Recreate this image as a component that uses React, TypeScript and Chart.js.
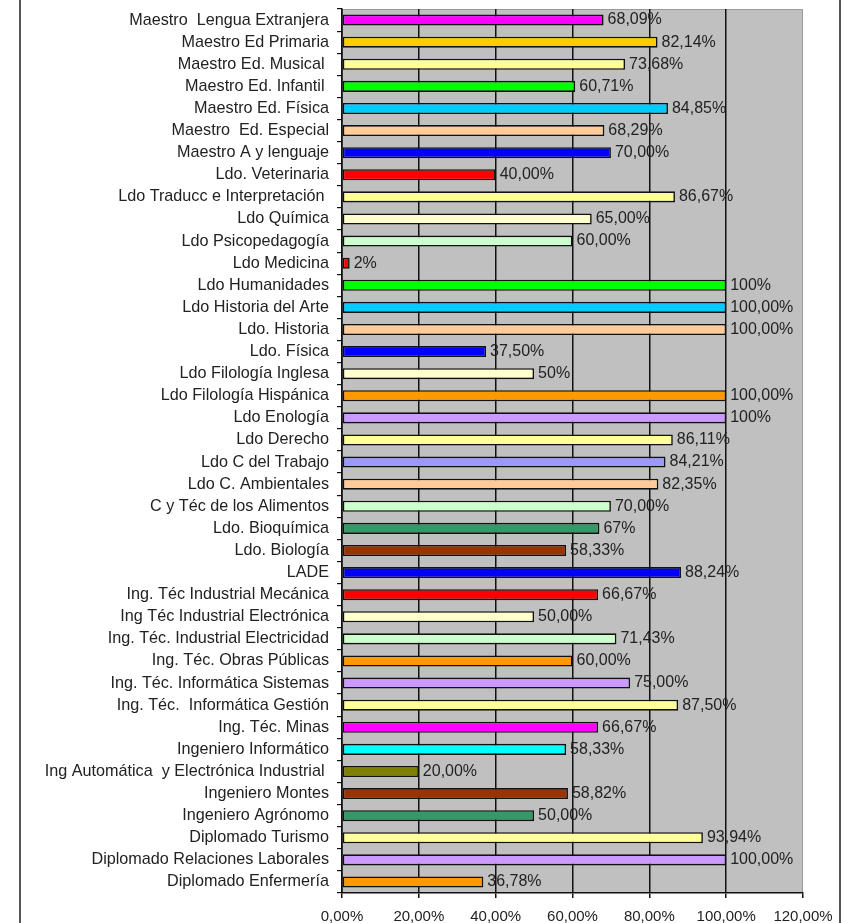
import React, { useEffect, useRef } from "react";
import { Chart, registerables } from "chart.js";

Chart.register(...registerables);

const categories: string[] = [
  "Maestro  Lengua Extranjera",
  "Maestro Ed Primaria",
  "Maestro Ed. Musical ",
  "Maestro Ed. Infantil ",
  "Maestro Ed. Física",
  "Maestro  Ed. Especial",
  "Maestro A y lenguaje",
  "Ldo. Veterinaria",
  "Ldo Traducc e Interpretación ",
  "Ldo Química",
  "Ldo Psicopedagogía",
  "Ldo Medicina",
  "Ldo Humanidades",
  "Ldo Historia del Arte",
  "Ldo. Historia",
  "Ldo. Física",
  "Ldo Filología Inglesa",
  "Ldo Filología Hispánica",
  "Ldo Enología",
  "Ldo Derecho",
  "Ldo C del Trabajo",
  "Ldo C. Ambientales",
  "C y Téc de los Alimentos",
  "Ldo. Bioquímica",
  "Ldo. Biología",
  "LADE",
  "Ing. Téc Industrial Mecánica",
  "Ing Téc Industrial Electrónica",
  "Ing. Téc. Industrial Electricidad",
  "Ing. Téc. Obras Públicas",
  "Ing. Téc. Informática Sistemas",
  "Ing. Téc.  Informática Gestión",
  "Ing. Téc. Minas",
  "Ingeniero Informático",
  "Ing Automática  y Electrónica Industrial ",
  "Ingeniero Montes",
  "Ingeniero Agrónomo",
  "Diplomado Turismo",
  "Diplomado Relaciones Laborales",
  "Diplomado Enfermería",
];

const values: number[] = [
  68.09, 82.14, 73.68, 60.71, 84.85, 68.29, 70.0, 40.0, 86.67, 65.0,
  60.0, 2, 100, 100, 100, 37.5, 50, 100, 100, 86.11,
  84.21, 82.35, 70.0, 67, 58.33, 88.24, 66.67, 50.0, 71.43, 60.0,
  75.0, 87.5, 66.67, 58.33, 20.0, 58.82, 50.0, 93.94, 100.0, 36.78,
];

const valueLabels: string[] = [
  "68,09%", "82,14%", "73,68%", "60,71%", "84,85%", "68,29%", "70,00%", "40,00%", "86,67%", "65,00%",
  "60,00%", "2%", "100%", "100,00%", "100,00%", "37,50%", "50%", "100,00%", "100%", "86,11%",
  "84,21%", "82,35%", "70,00%", "67%", "58,33%", "88,24%", "66,67%", "50,00%", "71,43%", "60,00%",
  "75,00%", "87,50%", "66,67%", "58,33%", "20,00%", "58,82%", "50,00%", "93,94%", "100,00%", "36,78%",
];

const barColors: string[] = [
  "#FF00FF", "#FFCC00", "#FFFF99", "#00FF00", "#00CCFF", "#FFCC99", "#0000FF", "#FF0000", "#FFFF99", "#FFFFCC",
  "#CCFFCC", "#FF0000", "#00FF00", "#00CCFF", "#FFCC99", "#0000FF", "#FFFFCC", "#FF9900", "#CC99FF", "#FFFF99",
  "#9999FF", "#FFCC99", "#CCFFCC", "#339966", "#993300", "#0000FF", "#FF0000", "#FFFFCC", "#CCFFCC", "#FF9900",
  "#CC99FF", "#FFFF99", "#FF00FF", "#00FFFF", "#808000", "#993300", "#339966", "#FFFF99", "#CC99FF", "#FF9900",
];

const xMin = 0;
const xMax = 120;
const xStep = 20;

const FONT = '"Liberation Sans", Arial, sans-serif';

const plotBgPlugin = {
  id: "plotBg",
  beforeDraw(chart: any) {
    const { ctx, chartArea } = chart;
    ctx.save();
    ctx.fillStyle = "#c0c0c0";
    ctx.fillRect(chartArea.left, chartArea.top, chartArea.right - chartArea.left, chartArea.bottom - chartArea.top);
    ctx.strokeStyle = "#9a9a9a";
    ctx.lineWidth = 1;
    ctx.strokeRect(chartArea.left + 0.5, chartArea.top + 0.5, chartArea.right - chartArea.left - 1, chartArea.bottom - chartArea.top - 1);
    ctx.restore();
  },
};

const valueLabelPlugin = {
  id: "valueLabels",
  afterDatasetsDraw(chart: any) {
    const { ctx } = chart;
    const meta = chart.getDatasetMeta(0);
    ctx.save();
    ctx.font = `16px ${FONT}`;
    ctx.fillStyle = "#222";
    ctx.textAlign = "left";
    ctx.textBaseline = "middle";
    meta.data.forEach((el: any, i: number) => {
      ctx.fillText(valueLabels[i], el.x + 4, el.y);
    });
    ctx.restore();
  },
};

const framePlugin = {
  id: "frame",
  afterDraw(chart: any) {
    const { ctx, width, height } = chart;
    ctx.save();
    ctx.strokeStyle = "#555";
    ctx.lineWidth = 2;
    ctx.beginPath();
    ctx.moveTo(20, 0);
    ctx.lineTo(20, height);
    ctx.moveTo(width - 12, 0);
    ctx.lineTo(width - 12, height);
    ctx.stroke();
    ctx.restore();
  },
};

export default function App() {
  const ref = useRef<HTMLCanvasElement | null>(null);

  useEffect(() => {
    if (!ref.current) return;
    const chart = new Chart(ref.current, {
      type: "bar",
      data: {
        labels: categories,
        datasets: [
          {
            data: values,
            backgroundColor: barColors,
            borderColor: "#111",
            borderWidth: 1.6,
            borderSkipped: false,
            barPercentage: 0.5,
            categoryPercentage: 1,
          },
        ],
      },
      options: {
        indexAxis: "y",
        responsive: false,
        animation: false,
        layout: { padding: { top: 9, right: 49, bottom: 0, left: 0 } },
        plugins: {
          legend: { display: false },
          tooltip: { enabled: false },
        },
        scales: {
          x: {
            min: xMin,
            max: xMax,
            ticks: {
              stepSize: xStep,
              color: "#222",
              font: { family: FONT, size: 15 },
              padding: 10,
              maxRotation: 0,
              callback: (v: any) => Number(v).toFixed(2).replace(".", ",") + "%",
            },
            grid: {
              color: (c: any) => (c.tick && c.tick.value === xMax ? "rgba(0,0,0,0)" : "#111"),
              lineWidth: 1.5,
              tickLength: 5,
              tickColor: "#111",
            },
            border: { color: "#111", width: 1.5 },
            afterFit: (s: any) => {
              s.height = 30;
            },
          },
          y: {
            ticks: {
              autoSkip: false,
              color: "#222",
              font: { family: FONT, size: 16.2 },
              padding: 8,
            },
            grid: {
              drawOnChartArea: false,
              offset: true,
              tickLength: 5,
              color: "#111",
              lineWidth: 1.2,
            },
            border: { color: "#111", width: 1.5 },
            afterFit: (s: any) => {
              s.width = 342;
              s.paddingTop = 0;
              s.paddingBottom = 0;
            },
          },
        },
      },
      plugins: [plotBgPlugin, valueLabelPlugin, framePlugin],
    } as any);
    return () => chart.destroy();
  }, []);

  return (
    <canvas
      ref={ref}
      width={852}
      height={923}
      style={{ position: "absolute", left: 0, top: 0, display: "block", background: "#fff" }}
    />
  );
}
